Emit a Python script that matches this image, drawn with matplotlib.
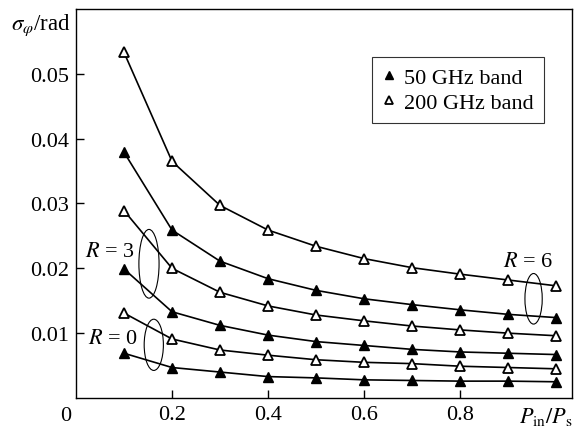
import matplotlib
matplotlib.use("Agg")
import matplotlib.pyplot as plt
from matplotlib.patches import Ellipse
from matplotlib.lines import Line2D

plt.rcParams['font.family'] = ['Liberation Serif', 'DejaVu Serif']
plt.rcParams['mathtext.fontset'] = 'stix'

# input power ratio P_in/P_s
x = [0.1, 0.2, 0.3, 0.4, 0.5, 0.6, 0.7, 0.8, 0.9, 1.0]

# phase noise sigma_phi (rad), 50 GHz band (filled) and 200 GHz band (open)
r6_200 = [0.0533, 0.0365, 0.0297, 0.0259, 0.0234, 0.0215, 0.0201, 0.0191, 0.0182, 0.0173]
r6_50 = [0.0379, 0.0259, 0.0211, 0.0184, 0.0166, 0.0153, 0.0144, 0.0136, 0.0129, 0.0124]
r3_200 = [0.0289, 0.0200, 0.0163, 0.0142, 0.0128, 0.0119, 0.0111, 0.0105, 0.0100, 0.0096]
r3_50 = [0.0199, 0.0133, 0.0112, 0.0097, 0.0087, 0.0081, 0.0075, 0.0071, 0.0069, 0.0067]
r0_200 = [0.0131, 0.0091, 0.0074, 0.0066, 0.0059, 0.0055, 0.0053, 0.0049, 0.0047, 0.0045]
r0_50 = [0.0069, 0.0047, 0.0040, 0.0033, 0.0031, 0.0028, 0.0027, 0.0026, 0.0026, 0.0025]

xticks = [0.2, 0.4, 0.6, 0.8]
yticks = [0.01, 0.02, 0.03, 0.04, 0.05]

fig = plt.figure(figsize=(5.74, 4.27), dpi=100)
ax = fig.add_axes([0.1324, 0.0656, 0.8641, 0.911])

filled = dict(marker='^', color='black', markerfacecolor='black',
              markeredgecolor='black', markersize=7, lw=1.2, clip_on=False)
hollow = dict(marker='^', color='black', markerfacecolor='white',
              markeredgecolor='black', markeredgewidth=1.3, markersize=7,
              lw=1.2, clip_on=False)

for ys in [r6_200, r3_200, r0_200]:
    ax.plot(x, ys, **hollow)
for ys in [r6_50, r3_50, r0_50]:
    ax.plot(x, ys, **filled)

ax.set_xlim(0, 1.033)
ax.set_ylim(0, 0.06)
ax.set_xticks(xticks)
ax.set_xticklabels([f"{t:.1f}" for t in xticks])
ax.set_yticks(yticks)
ax.set_yticklabels([f"{t:.2f}" for t in yticks])
ax.tick_params(direction='in', length=6, width=1, labelsize=16, pad=5)
ax.tick_params(axis='x', pad=5)
for s in ax.spines.values():
    s.set_linewidth(1.0)

# ellipses grouping the curves
for cx, cy, w, h in [(0.152, 0.0207, 0.042, 0.0106),
                     (0.162, 0.0082, 0.040, 0.0079),
                     (0.953, 0.0153, 0.036, 0.0078)]:
    ax.add_patch(Ellipse((cx, cy), w, h, fill=False, lw=0.8, color='black'))

ax.text(0.071, 0.0226, '$R$ = 3', fontsize=16, ha='center', va='center')
ax.text(0.077, 0.0092, '$R$ = 0', fontsize=16, ha='center', va='center')
ax.text(0.942, 0.0211, '$R$ = 6', fontsize=16, ha='center', va='center')

fig.text(66 / 574, 1 - 417 / 427, '0', fontsize=16, ha='center', va='center')
fig.text(546 / 574, 1 - 417 / 427, r'$P_{\rm in}/P_{\rm s}$', fontsize=16,
         ha='center', va='center')
fig.text(41 / 574, 1 - 25 / 427, r'$\sigma_\varphi$/rad', fontsize=16.5,
         ha='center', va='center')

handles = [Line2D([], [], ls='none', marker='^', color='black', markersize=6),
           Line2D([], [], ls='none', marker='^', markerfacecolor='white',
                  markeredgecolor='black', markeredgewidth=1.3, markersize=6)]
leg = ax.legend(handles, ['50 GHz band', '200 GHz band'], loc='upper left',
                bbox_to_anchor=((372 - 76) / 496, (399 - 58) / 389),
                fontsize=16, frameon=True, fancybox=False, handlelength=0.6,
                handletextpad=0.4, borderpad=0.45, labelspacing=0.2,
                borderaxespad=0)
leg.get_frame().set_edgecolor('black')
leg.get_frame().set_linewidth(0.8)

fig.savefig('out.png', dpi=100)
